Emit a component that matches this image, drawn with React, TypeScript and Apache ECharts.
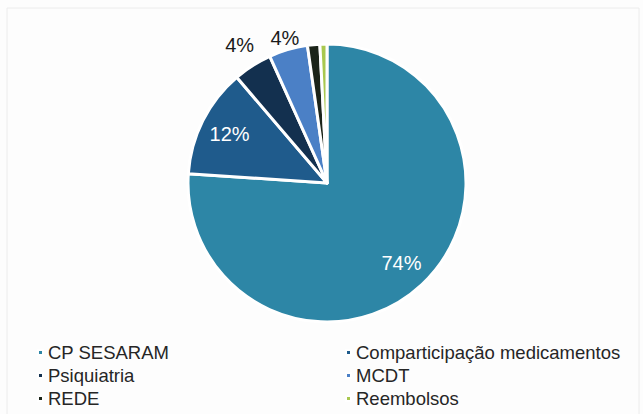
import React, { useEffect, useRef } from "react";
import * as echarts from "echarts";

const categories = [
  "CP SESARAM",
  "Comparticipação medicamentos",
  "Psiquiatria",
  "MCDT",
  "REDE",
  "Reembolsos",
];
const values = [74.4, 12.4, 4.4, 4.4, 1.4, 0.8];
const colors = ["#2d86a6", "#1f5b8c", "#13304f", "#4b80c6", "#1b2419", "#a9c84f"];
const legendCol1 = ["CP SESARAM", "Psiquiatria", "REDE"];
const legendCol2 = ["Comparticipação medicamentos", "MCDT", "Reembolsos"];

const FONT = "'Liberation Sans', Arial, sans-serif";

export default function App() {
  const ref = useRef<HTMLDivElement>(null);
  useEffect(() => {
    document.body.style.margin = "0";
    const chart = echarts.init(ref.current!, null, { renderer: "svg" });
    const center = [327, 183];
    const fmt = (p: any) => `${Math.round(p.value)}%`;
    const mainData = categories.map((name, i) => ({
      name,
      value: values[i],
      itemStyle: { color: colors[i] },
    }));
    const labelSeries = (radius: number, idx: number[], color: string) => ({
      type: "pie",
      center,
      radius: [0, radius],
      startAngle: 90,
      clockwise: true,
      silent: true,
      legendHoverLink: false,
      itemStyle: { color: "rgba(0,0,0,0)", borderWidth: 0 },
      labelLine: { show: false },
      emphasis: { disabled: true },
      data: categories.map((name, i) => ({
        name,
        value: values[i],
        itemStyle: { color: "rgba(0,0,0,0)" },
        label: {
          show: idx.includes(i),
          position: "inside",
          formatter: fmt,
          color,
          fontSize: 20,
          fontFamily: FONT,
        },
      })),
    });
    const legendCommon = {
      orient: "vertical",
      icon: "rect",
      itemWidth: 5,
      itemHeight: 5,
      itemGap: 4,
      padding: 0,
      top: 343,
      height: 70,
      selectedMode: false,
      textStyle: {
        fontSize: 18.5,
        lineHeight: 18,
        color: "#262626",
        fontFamily: FONT,
      },
    };
    chart.setOption({
      animation: false,
      backgroundColor: "#fdfdfd",
      graphic: [
        {
          type: "rect",
          shape: { x: 7, y: 8, width: 632, height: 410 },
          style: { fill: "none", stroke: "#ececec", lineWidth: 1 },
          silent: true,
        },
      ],
      legend: [
        { ...legendCommon, left: 37, data: legendCol1 },
        { ...legendCommon, left: 345, data: legendCol2 },
      ],
      series: [
        {
          type: "pie",
          center,
          radius: [0, 139],
          startAngle: 90,
          clockwise: true,
          label: { show: false },
          labelLine: { show: false },
          itemStyle: { borderColor: "#ffffff", borderWidth: 3 },
          data: mainData,
        },
        labelSeries(212, [0, 1], "#ffffff"),
        labelSeries(320, [2], "#1a1a1a"),
        labelSeries(296, [3], "#1a1a1a"),
      ],
    });
    return () => chart.dispose();
  }, []);
  return <div ref={ref} style={{ width: 643, height: 414 }} />;
}
